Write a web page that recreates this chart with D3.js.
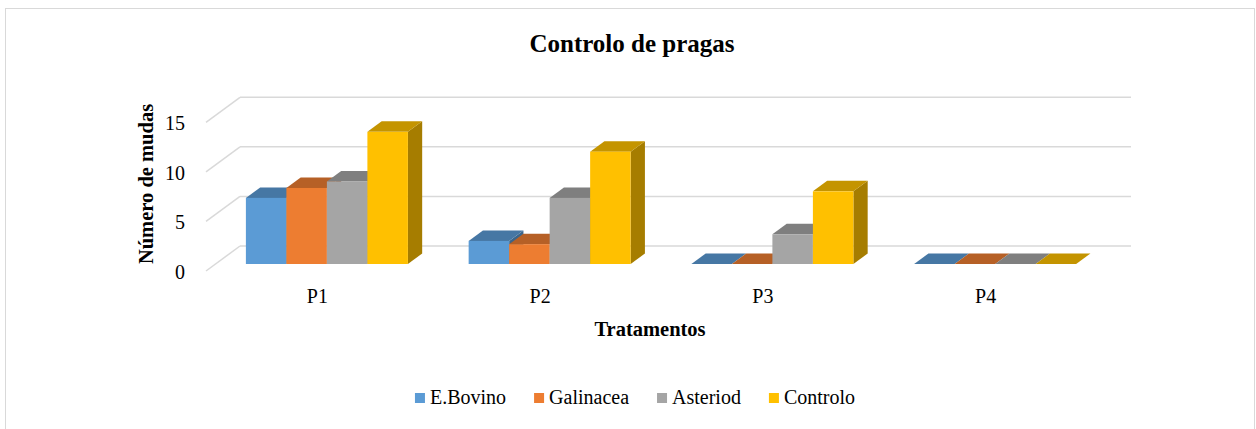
<!DOCTYPE html>
<html>
<head>
<meta charset="utf-8">
<script src="https://cdn.jsdelivr.net/npm/d3@7"></script>
<style>
  body { margin: 0; background: #fff; }
  svg text { font-family: "Liberation Serif", "Times New Roman", serif; fill: #000; }
</style>
</head>
<body>
<svg id="chart" width="1256" height="429"></svg>
<script>
// data
var categories = ["P1", "P2", "P3", "P4"];
var series = ["E.Bovino", "Galinacea", "Asteriod", "Controlo"];
var eBovino = [6.67, 2.33, 0, 0];
var galinacea = [7.67, 2, 0, 0];
var asteriod = [8.33, 6.67, 3, 0];
var controlo = [13.33, 11.33, 7.33, 0];
var yTicks = [0, 5, 10, 15];

var values = [eBovino, galinacea, asteriod, controlo];
var colors = ["#5B9BD5", "#ED7D31", "#A5A5A5", "#FFC000"];

var svg = d3.select("#chart");

// chart border
svg.append("rect")
    .attr("x", 5.5).attr("y", 8.5)
    .attr("width", 1249).attr("height", 440)
    .attr("fill", "none").attr("stroke", "#D9D9D9").attr("stroke-width", 1);

// 3d depth of the floor (back -> front)
var depthX = -34, depthY = 25;
var barBack = 0.30, barFront = 0.72;

var yScale = d3.scaleLinear().domain([0, 15]).range([246, 97.3]);
var xScale = d3.scaleBand().domain(categories).range([240, 1131]);
var xSeries = d3.scaleBand().domain(series).range([0, xScale.bandwidth()]).paddingOuter(0.75);

function proj(x, v, t) {
    return [x + depthX * t, yScale(v) + depthY * t];
}
function poly(pts) {
    return pts.map(p => p.join(",")).join(" ");
}
function shade(c, k) {
    var col = d3.rgb(c);
    return d3.rgb(col.r * k, col.g * k, col.b * k).formatHex();
}

// back wall gridlines and left wall diagonals
var grid = svg.append("g");
yTicks.forEach(function(v) {
    grid.append("line")
        .attr("x1", 240).attr("x2", 1131)
        .attr("y1", yScale(v)).attr("y2", yScale(v))
        .attr("stroke", "#D9D9D9").attr("stroke-width", 1.5);
    var f = proj(240, v, 1);
    grid.append("line")
        .attr("x1", 240).attr("y1", yScale(v))
        .attr("x2", f[0]).attr("y2", f[1])
        .attr("stroke", "#D9D9D9").attr("stroke-width", 1.5);
});

// bars, painted left to right
var bars = svg.append("g");
categories.forEach(function(cat, ci) {
    series.forEach(function(s, si) {
        var v = values[si][ci];
        var x0 = xScale(cat) + xSeries(s);
        var x1 = x0 + xSeries.bandwidth();
        var c = colors[si];
        // right side face
        if (v > 0) {
            bars.append("polygon")
                .attr("points", poly([proj(x1, 0, barFront), proj(x1, 0, barBack), proj(x1, v, barBack), proj(x1, v, barFront)]))
                .attr("fill", shade(c, 0.65));
        }
        // top face
        bars.append("polygon")
            .attr("points", poly([proj(x0, v, barFront), proj(x1, v, barFront), proj(x1, v, barBack), proj(x0, v, barBack)]))
            .attr("fill", shade(c, 0.77));
        // front face
        if (v > 0) {
            var a = proj(x0, v, barFront), b = proj(x1, 0, barFront);
            bars.append("rect")
                .attr("x", a[0]).attr("y", a[1])
                .attr("width", b[0] - a[0]).attr("height", b[1] - a[1])
                .attr("fill", c);
        }
    });
});

// y axis labels (front edge of left wall)
var yFront = d3.scaleLinear().domain(yScale.domain()).range(yScale.range().map(r => r + depthY + 1));
var yAxis = svg.append("g")
    .attr("transform", "translate(189,0)")
    .call(d3.axisLeft(yFront).tickValues(yTicks).tickSize(0).tickPadding(4).tickFormat(d3.format("d")));
yAxis.select(".domain").remove();
yAxis.selectAll("text").style("font-size", "20px").style("font-family", "Liberation Serif");

// category labels
var xFront = d3.scaleBand().domain(categories).range(xScale.range().map(r => r + depthX));
var xAxis = svg.append("g")
    .attr("transform", "translate(0,289)")
    .call(d3.axisBottom(xFront).tickSize(0).tickPadding(0));
xAxis.select(".domain").remove();
xAxis.selectAll("text").style("font-size", "20px").style("font-family", "Liberation Serif");

// titles
svg.append("text")
    .attr("x", 632).attr("y", 52)
    .attr("text-anchor", "middle")
    .style("font-size", "25px").style("font-weight", "bold")
    .text("Controlo de pragas");

svg.append("text")
    .attr("x", 650).attr("y", 336)
    .attr("text-anchor", "middle")
    .style("font-size", "20.5px").style("font-weight", "bold")
    .text("Tratamentos");

svg.append("text")
    .attr("transform", "translate(153,184) rotate(-90)")
    .attr("text-anchor", "middle")
    .style("font-size", "20.5px").style("font-weight", "bold")
    .text("Número de mudas");

// legend
var legend = svg.append("g");
var lx = 0;
var gap = 28;
series.forEach(function(s, i) {
    var g = legend.append("g");
    g.append("rect").attr("x", 0).attr("y", -11).attr("width", 10).attr("height", 10).attr("fill", colors[i]);
    var t = g.append("text").attr("x", 15).attr("y", 0)
        .style("font-size", "20px").text(s);
    var w = 15 + t.node().getComputedTextLength();
    g.attr("transform", "translate(" + lx + ",0)");
    lx += w + gap;
});
var totalW = lx - gap;
legend.attr("transform", "translate(" + (635 - totalW / 2) + ",404)");
</script>
</body>
</html>
